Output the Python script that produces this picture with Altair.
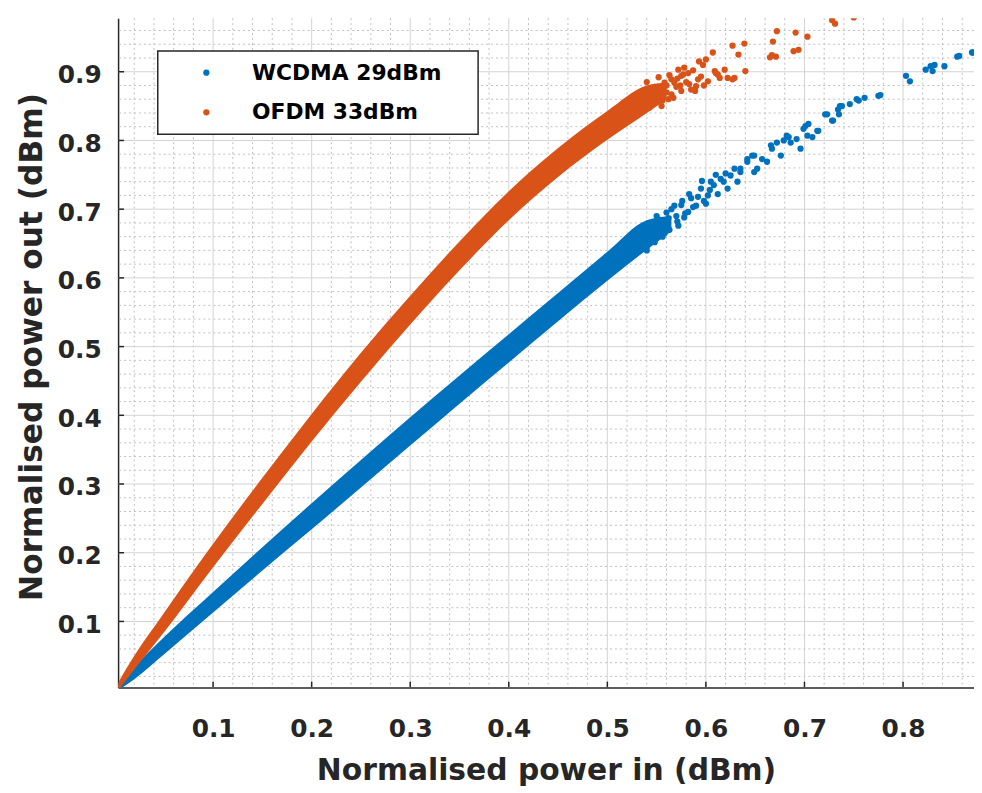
import altair as alt
import pandas as pd

# ---------------- data ----------------
series_names = ["WCDMA 29dBm", "OFDM 33dBm"]
series_colors = ["#0072BD", "#D95319"]

# dense part of each cloud: lower / upper edge of the band
wcdma_band_x = [0.004, 0.02, 0.05, 0.10, 0.15, 0.20, 0.25, 0.30, 0.35, 0.40, 0.45, 0.50, 0.54, 0.565]
wcdma_band_lo = [0.000, 0.016, 0.052, 0.113, 0.174, 0.234, 0.295, 0.356, 0.417, 0.477, 0.537, 0.596, 0.641, 0.668]
wcdma_band_hi = [0.010, 0.034, 0.077, 0.143, 0.208, 0.272, 0.335, 0.397, 0.458, 0.518, 0.578, 0.638, 0.684, 0.690]

ofdm_band_x = [0.004, 0.02, 0.05, 0.10, 0.15, 0.20, 0.25, 0.30, 0.35, 0.40, 0.45, 0.50, 0.54, 0.56]
ofdm_band_lo = [0.000, 0.030, 0.084, 0.179, 0.271, 0.362, 0.449, 0.532, 0.611, 0.684, 0.747, 0.801, 0.840, 0.860]
ofdm_band_hi = [0.012, 0.050, 0.112, 0.213, 0.309, 0.402, 0.491, 0.574, 0.653, 0.726, 0.789, 0.843, 0.880, 0.884]

# loose samples (tails of the clouds)
wcdma_pts_x = [0.004, 0.530, 0.535, 0.540, 0.540, 0.542, 0.545, 0.548, 0.548, 0.550, 0.552, 0.555,
               0.556, 0.558, 0.560, 0.562, 0.563, 0.565, 0.568, 0.570, 0.571, 0.572, 0.575, 0.576,
               0.578, 0.579, 0.582, 0.583, 0.585, 0.587, 0.590, 0.592, 0.595, 0.596, 0.598, 0.600,
               0.602, 0.604, 0.605, 0.608, 0.610, 0.612, 0.615, 0.618, 0.620, 0.622, 0.625, 0.629,
               0.632, 0.635, 0.635, 0.642, 0.642, 0.647, 0.649, 0.649, 0.652, 0.657, 0.662, 0.666,
               0.667, 0.672, 0.676, 0.679, 0.682, 0.684, 0.686, 0.692, 0.696, 0.699, 0.701, 0.703,
               0.704, 0.708, 0.713, 0.714, 0.721, 0.723, 0.728, 0.729, 0.734, 0.735, 0.736, 0.738,
               0.746, 0.753, 0.755, 0.761, 0.775, 0.777, 0.803, 0.807, 0.823, 0.828, 0.830, 0.832,
               0.842, 0.855, 0.857, 0.870, 0.871]
wcdma_pts_y = [0.004, 0.660, 0.668, 0.645, 0.640, 0.680, 0.672, 0.660, 0.652, 0.690, 0.685, 0.677,
               0.660, 0.665, 0.695, 0.687, 0.670, 0.700, 0.705, 0.690, 0.682, 0.676, 0.706, 0.712,
               0.688, 0.694, 0.696, 0.722, 0.716, 0.703, 0.705, 0.718, 0.730, 0.741, 0.712, 0.708,
               0.720, 0.728, 0.740, 0.735, 0.750, 0.722, 0.744, 0.740, 0.752, 0.730, 0.749, 0.759,
               0.740, 0.754, 0.759, 0.773, 0.769, 0.778, 0.778, 0.754, 0.759, 0.773, 0.769, 0.793,
               0.788, 0.797, 0.778, 0.800, 0.807, 0.805, 0.797, 0.802, 0.788, 0.817, 0.821, 0.807,
               0.824, 0.805, 0.814, 0.814, 0.838, 0.838, 0.829, 0.829, 0.845, 0.838, 0.850, 0.850,
               0.853, 0.860, 0.858, 0.862, 0.865, 0.866, 0.894, 0.886, 0.903, 0.908, 0.901, 0.910,
               0.908, 0.922, 0.923, 0.928, 0.928]

ofdm_pts_x = [0.004, 0.530, 0.535, 0.540, 0.540, 0.543, 0.545, 0.547, 0.548, 0.551, 0.552, 0.555,
              0.556, 0.558, 0.560, 0.560, 0.562, 0.563, 0.565, 0.565, 0.567, 0.568, 0.570, 0.571,
              0.572, 0.574, 0.575, 0.575, 0.577, 0.578, 0.580, 0.582, 0.583, 0.585, 0.587, 0.589,
              0.590, 0.592, 0.593, 0.595, 0.597, 0.598, 0.600, 0.602, 0.607, 0.609, 0.610, 0.612,
              0.614, 0.619, 0.622, 0.627, 0.627, 0.629, 0.633, 0.639, 0.640, 0.665, 0.667, 0.671,
              0.668, 0.672, 0.689, 0.691, 0.694, 0.703, 0.728, 0.731, 0.750]
ofdm_pts_y = [0.004, 0.842, 0.866, 0.850, 0.885, 0.848, 0.855, 0.866, 0.878, 0.862, 0.892, 0.850,
              0.858, 0.884, 0.870, 0.880, 0.860, 0.895, 0.867, 0.889, 0.862, 0.884, 0.878, 0.890,
              0.903, 0.880, 0.894, 0.872, 0.896, 0.906, 0.885, 0.898, 0.882, 0.874, 0.902, 0.872,
              0.879, 0.889, 0.915, 0.893, 0.910, 0.880, 0.918, 0.886, 0.928, 0.901, 0.898, 0.896,
              0.891, 0.903, 0.891, 0.889, 0.938, 0.891, 0.925, 0.941, 0.901, 0.921, 0.924, 0.922,
              0.944, 0.959, 0.930, 0.957, 0.932, 0.951, 0.975, 0.970, 0.979]

# axes and grid
x_domain = [0.0036, 0.872]
y_domain = [0.0037, 0.978]
x_major = [0.1, 0.2, 0.3, 0.4, 0.5, 0.6, 0.7, 0.8]
y_major = [0.1, 0.2, 0.3, 0.4, 0.5, 0.6, 0.7, 0.8, 0.9]
x_minor = [0.02, 0.04, 0.06, 0.08, 0.12, 0.14, 0.16, 0.18, 0.22, 0.24, 0.26, 0.28,
           0.32, 0.34, 0.36, 0.38, 0.42, 0.44, 0.46, 0.48, 0.52, 0.54, 0.56, 0.58,
           0.62, 0.64, 0.66, 0.68, 0.72, 0.74, 0.76, 0.78, 0.82, 0.84, 0.86]
y_minor = [0.02, 0.04, 0.06, 0.08, 0.12, 0.14, 0.16, 0.18, 0.22, 0.24, 0.26, 0.28,
           0.32, 0.34, 0.36, 0.38, 0.42, 0.44, 0.46, 0.48, 0.52, 0.54, 0.56, 0.58,
           0.62, 0.64, 0.66, 0.68, 0.72, 0.74, 0.76, 0.78, 0.82, 0.84, 0.86, 0.88,
           0.92, 0.94, 0.96]

# ---------------- tables ----------------
band_w = pd.DataFrame({"x": wcdma_band_x, "lo": wcdma_band_lo, "hi": wcdma_band_hi})
band_o = pd.DataFrame({"x": ofdm_band_x, "lo": ofdm_band_lo, "hi": ofdm_band_hi})
pts = pd.concat([
    pd.DataFrame({"x": wcdma_pts_x, "y": wcdma_pts_y, "s": series_names[0]}),
    pd.DataFrame({"x": ofdm_pts_x, "y": ofdm_pts_y, "s": series_names[1]}),
])

FONT = "DejaVu Sans"
TXT = "#262626"
W, H = 863, 675
xs = alt.Scale(domain=x_domain, nice=False, zero=False)
ys = alt.Scale(domain=y_domain, nice=False, zero=False)

ax_x = alt.Axis(
    values=x_major, format=".1f", title="Normalised power in (dBm)",
    grid=False, ticks=False, domainColor=TXT, domainWidth=1.5,
    labelFont=FONT, labelFontWeight="bold", labelFontSize=25, labelColor=TXT, labelPadding=29,
    titleFont=FONT, titleFontWeight="bold", titleFontSize=30, titleColor=TXT,
    titleBaseline="alphabetic", titleY=93)
ax_y = alt.Axis(
    values=y_major, format=".1f", title="Normalised power out (dBm)",
    grid=False, ticks=False, domainColor=TXT, domainWidth=1.5,
    labelFont=FONT, labelFontWeight="bold", labelFontSize=25, labelColor=TXT, labelPadding=17,
    labelOffset=3,
    titleFont=FONT, titleFontWeight="bold", titleFontSize=31.5, titleColor=TXT,
    titleBaseline="alphabetic", titleX=-77, titleY=331)

minor_x = alt.Chart(pd.DataFrame({"v": x_minor})).mark_rule(
    color="#bfbfbf", strokeWidth=1, strokeDash=[2, 3]).encode(x=alt.X("v:Q", scale=xs, axis=ax_x))
minor_y = alt.Chart(pd.DataFrame({"v": y_minor})).mark_rule(
    color="#bfbfbf", strokeWidth=1, strokeDash=[2, 3]).encode(y=alt.Y("v:Q", scale=ys, axis=ax_y))
major_x = alt.Chart(pd.DataFrame({"v": x_major})).mark_rule(
    color="#d2d2d2", strokeWidth=1).encode(x=alt.X("v:Q", scale=xs, axis=ax_x))
major_y = alt.Chart(pd.DataFrame({"v": y_major})).mark_rule(
    color="#d2d2d2", strokeWidth=1).encode(y=alt.Y("v:Q", scale=ys, axis=ax_y))

# inward tick marks (MATLAB style)
tick_x = alt.Chart(pd.DataFrame({"v": x_major})).mark_rule(
    color=TXT, strokeWidth=1.5).encode(
    x=alt.X("v:Q", scale=xs, axis=ax_x), y=alt.value(H), y2=alt.value(H - 6))
tick_y = alt.Chart(pd.DataFrame({"v": y_major})).mark_rule(
    color=TXT, strokeWidth=1.5).encode(
    y=alt.Y("v:Q", scale=ys, axis=ax_y), x=alt.value(0), x2=alt.value(6))

area_w = alt.Chart(band_w).mark_area(color=series_colors[0], interpolate="monotone", clip=True).encode(
    x=alt.X("x:Q", scale=xs, axis=ax_x), y=alt.Y("lo:Q", scale=ys, axis=ax_y), y2="hi:Q")
area_o = alt.Chart(band_o).mark_area(color=series_colors[1], interpolate="monotone", clip=True).encode(
    x=alt.X("x:Q", scale=xs, axis=ax_x), y=alt.Y("lo:Q", scale=ys, axis=ax_y), y2="hi:Q")

points = alt.Chart(pts).mark_circle(size=40, opacity=1, clip=True).encode(
    x=alt.X("x:Q", scale=xs, axis=ax_x),
    y=alt.Y("y:Q", scale=ys, axis=ax_y),
    color=alt.Color("s:N", scale=alt.Scale(domain=series_names, range=series_colors),
                    legend=alt.Legend(
                        title="\u00a0", titleOrient="right", titlePadding=26, titleFontSize=2,
                        titleColor="rgba(0,0,0,0)",
                        orient="none", legendX=40, legendY=33, direction="vertical",
                        labelFont=FONT, labelFontWeight="bold", labelFontSize=22, labelColor="#000000",
                        labelLimit=500,
                        symbolType="circle", symbolSize=40, symbolStrokeWidth=0,
                        symbolOffset=27, labelOffset=35, padding=11, rowPadding=18,
                        strokeColor="#262626", fillColor="white")),
)

chart = alt.layer(minor_x, minor_y, major_x, major_y, tick_x, tick_y, area_w, area_o, points).properties(
    width=W, height=H,
    autosize=alt.AutoSizeParams(type="none"),
    padding={"left": 111, "top": 7, "right": 0, "bottom": 100},
).configure_view(stroke=None).configure_legend(strokeWidth=1.5)

chart.save("out.html", embed_options={"renderer": "svg", "actions": False})
